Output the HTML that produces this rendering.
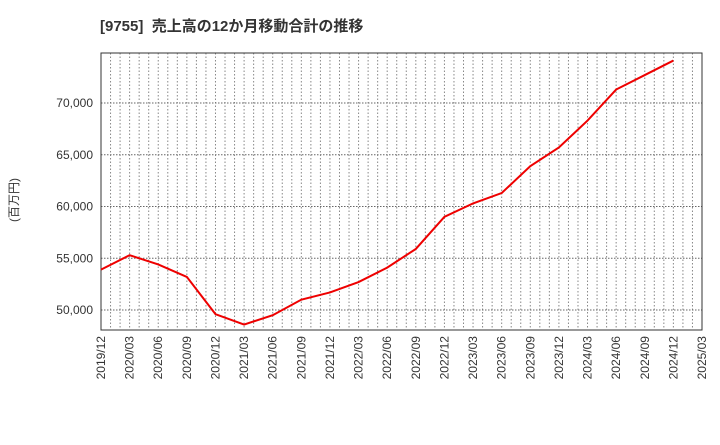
<!DOCTYPE html>
<html><head><meta charset="utf-8"><style>
body{margin:0;background:#fff;font-family:"Liberation Sans","Noto Sans CJK JP",sans-serif}
</style></head><body>
<svg width="720" height="440" xmlns="http://www.w3.org/2000/svg">
<text x="100" y="31" font-size="15" font-weight="bold" fill="#333" font-family="Liberation Sans, Noto Sans CJK JP, sans-serif">[9755]&#160;&#160;売上高の12か月移動合計の推移</text>
<text transform="translate(18,200) rotate(-90)" text-anchor="middle" font-size="12" fill="#333" font-family="Liberation Sans, Noto Sans CJK JP, sans-serif">(百万円)</text>
<g id="grid"></g>
<rect x="101" y="53" width="601" height="277" fill="none" stroke="#333" stroke-width="1"/>
<g id="ylab"></g><g id="xlab"></g>
<polyline id="line" fill="none" stroke="#e00" stroke-width="2"/>
</svg>
<script>
const categories=["2019/12","2020/03","2020/06","2020/09","2020/12","2021/03","2021/06","2021/09","2021/12","2022/03","2022/06","2022/09","2022/12","2023/03","2023/06","2023/09","2023/12","2024/03","2024/06","2024/09","2024/12","2025/03"];
const values=[53900,55300,54400,53200,49600,48600,49500,51000,51700,52700,54100,55900,59000,60300,61300,63900,65700,68300,71300,72700,74100];
const yTicks=[50000,55000,60000,65000,70000];
const X0=101,X1=702,Y0=330,Y1=53,VMIN=48070,VMAX=74830;
const xs=i=>X0+(X1-X0)*i/(categories.length-1);
const ys=v=>Y0-(v-VMIN)/(VMAX-VMIN)*(Y0-Y1);
const NS="http://www.w3.org/2000/svg";
const g=document.getElementById('grid'),yl=document.getElementById('ylab'),xl=document.getElementById('xlab');
const months=(categories.length-1)*3;
for(let m=1;m<months;m++){
 const x=X0+(X1-X0)*m/months;
 const l=document.createElementNS(NS,'line');
 l.setAttribute('x1',x);l.setAttribute('x2',x);l.setAttribute('y1',Y1);l.setAttribute('y2',Y0);
 l.setAttribute('stroke','#888');l.setAttribute('stroke-dasharray','1.5,2');
 
 
 g.appendChild(l);
}
yTicks.forEach(v=>{
 const y=ys(v);
 const l=document.createElementNS(NS,'line');
 l.setAttribute('x1',X0);l.setAttribute('x2',X1);l.setAttribute('y1',y);l.setAttribute('y2',y);
 l.setAttribute('stroke','#666');l.setAttribute('stroke-dasharray','1.5,1.5');
 
 
 g.appendChild(l);
 const t=document.createElementNS(NS,'text');
 t.setAttribute('x',X0-8);t.setAttribute('y',y+4);t.setAttribute('text-anchor','end');
 t.setAttribute('font-size','12');t.setAttribute('fill','#333');
 t.textContent=v.toLocaleString('en-US');
 
 
 yl.appendChild(t);
});
categories.forEach((c,i)=>{
 const x=xs(i);
 const t=document.createElementNS(NS,'text');
 t.setAttribute('transform',`translate(${x+4},336) rotate(-90)`);
 t.setAttribute('text-anchor','end');t.setAttribute('font-size','12');t.setAttribute('fill','#333');
 t.textContent=c;
 
 
 xl.appendChild(t);
});
document.getElementById('line').setAttribute('points',values.map((v,i)=>xs(i)+','+ys(v)).join(' '));
</script>
</body></html>
